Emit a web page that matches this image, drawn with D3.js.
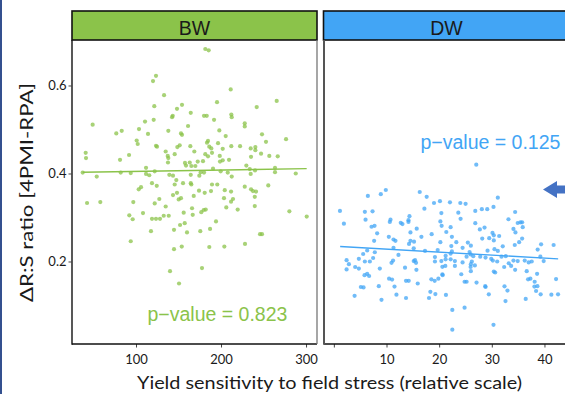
<!DOCTYPE html>
<html>
<head>
<meta charset="utf-8">
<script src="https://cdn.jsdelivr.net/npm/d3@7"></script>
<style>
  body { margin: 0; background: #fff; }
  svg { display: block; }
</style>
</head>
<body>
<svg id="chart" width="565" height="394"></svg>
<script>
// facet names and labels
const panels = ['BW', 'DW'];
const pValues = ['0.823', '0.125'];

// shared y axis
const yTicks = [0.2, 0.4, 0.6];
const bwTicks = [100, 200, 300];
const dwTicks = [0, 10, 20, 30, 40];
const dwTickLabels = ['', '10', '20', '30', '40'];

// [yield sensitivity, delta R:S ratio]
const bwPoints = [
  [123.5,0.622],[120,0.610],[133,0.578],[121.5,0.553],[49,0.511],[110.6,0.518],[120.8,0.522],[143.2,0.531],[142.4,0.528],[154.1,0.556],
  [148.2,0.547],[164.4,0.538],[161.2,0.508],[103.5,0.501],[138,0.497],[76.8,0.491],[83.2,0.497],[114.1,0.490],[152.9,0.491],[154.1,0.488],
  [100.8,0.475],[102,0.467],[40.8,0.447],[41.2,0.435],[123.5,0.463],[124.7,0.461],[91.8,0.442],[81.2,0.431],[134.9,0.450],[137.3,0.440],
  [138,0.435],[137.6,0.425],[145.5,0.444],[148.6,0.460],[151.4,0.464],[163.9,0.462],[168.6,0.450],[157.6,0.424],[158.8,0.418],[163.2,0.425],
  [165.1,0.417],[169.8,0.417],[37.3,0.402],[53.8,0.393],[82,0.402],[93.8,0.401],[111.8,0.413],[111.8,0.399],[115.6,0.396],[122,0.405],
  [139.2,0.397],[143.5,0.395],[147.4,0.385],[145.5,0.375],[155.3,0.378],[164.4,0.397],[164.4,0.378],[165.1,0.375],[118.8,0.378],[124.4,0.372],
  [105.9,0.369],[103.2,0.364],
  [181.5,0.683],[185.5,0.680],[211.4,0.591],[195.3,0.562],[265.5,0.565],[242,0.551],[180,0.531],[183.2,0.531],[191.8,0.522],[212.1,0.534],
  [212.6,0.528],[227.9,0.514],[227.9,0.507],[198,0.498],[205.5,0.485],[248.2,0.489],[276.5,0.478],[252.9,0.472],[184.7,0.474],[183.5,0.470],
  [196.5,0.469],[186.2,0.461],[188.6,0.457],[212.1,0.462],[222.4,0.462],[202,0.456],[234.9,0.457],[240.4,0.460],[240.4,0.453],[181.5,0.444],
  [184.7,0.439],[198.5,0.440],[247.1,0.445],[256.8,0.440],[266.7,0.439],[235.3,0.438],[189.4,0.447],[202,0.430],[198.8,0.427],[209.4,0.431],
  [172.6,0.427],[178.8,0.428],[229.8,0.418],[233.8,0.410],[190.6,0.411],[176.1,0.403],[174.5,0.395],[180,0.402],[199.6,0.405],[207.9,0.402],
  [212.6,0.393],[234.9,0.399],[240,0.407],[263.5,0.413],[263.5,0.403],[287.9,0.400],[189.4,0.375],[195.6,0.375],[227.9,0.370],[235.3,0.364],
  [255.6,0.373],
  [42.4,0.333],[58,0.335],[96.8,0.335],[122,0.332],[127.4,0.342],[143.5,0.351],[148.2,0.356],[150.2,0.341],[152.9,0.344],[167.9,0.349],
  [134.9,0.325],[165.9,0.321],[92.1,0.305],[96.1,0.296],[108.2,0.310],[118.8,0.297],[123.5,0.297],[128.2,0.297],[132.6,0.304],[138.5,0.304],
  [156.1,0.311],[166.7,0.306],[151.8,0.283],[157.3,0.287],[144.7,0.272],[160,0.266],[117.6,0.269],[93.8,0.246],[144.7,0.228],[153.8,0.234],
  [140,0.178],[150.6,0.150],
  [237.6,0.360],[241.2,0.359],[174.1,0.361],[180.8,0.356],[188.2,0.360],[204.4,0.362],[211.8,0.359],[203.5,0.344],[214.1,0.342],[211.8,0.336],
  [239.7,0.347],[206.2,0.323],[219.6,0.318],[239.7,0.326],[280.4,0.314],[300.8,0.302],[176.8,0.312],[179.6,0.317],[182,0.318],[194.1,0.291],
  [175.6,0.269],[187.1,0.274],[245.9,0.262],[248.2,0.262],[228.2,0.240],[186.2,0.233],[203.9,0.234],[177.6,0.185]
];

const dwPoints = [
  [27.05,0.420],[9.87,0.3625],[8.92,0.353],[6.46,0.349],[16.31,0.358],[17.63,0.347],[19.02,0.333],[20.15,0.337],[17.2,0.320],[1.16,0.315],
  [5.89,0.313],[7.35,0.314],[1.91,0.286],[6.02,0.295],[10.76,0.295],[10.63,0.290],[14.36,0.303],[14.17,0.294],[14.17,0.290],[12.71,0.288],
  [13.03,0.285],[20.42,0.310],[20.23,0.291],[20.47,0.281],[7.73,0.281],[7.16,0.279],[15.74,0.2745],[14.55,0.266],[8.22,0.264],[18.58,0.262],
  [10.44,0.256],[11.33,0.250],[11.7,0.247],[16.63,0.256],[7.65,0.247],[14.55,0.247],[15.23,0.245],[14.28,0.240],[20.23,0.244],[11.33,0.231],
  [15.17,0.230],[17.31,0.224],[19.72,0.226],[6.33,0.225],[7.78,0.221],[5.57,0.217],[12.27,0.215],[4.75,0.206],[7.46,0.208],[2.42,0.203],
  [2.86,0.194],[2.42,0.182],[5.89,0.200],[6.84,0.200],[11.25,0.202],[10.95,0.197],[15.17,0.201],[15.42,0.203],[15.61,0.197],[19.2,0.210],
  [19.2,0.200],[20.42,0.201],[4.05,0.1875],[4.75,0.184],[8.73,0.184],[13.52,0.186],[15.68,0.181],[20.61,0.188],[6.33,0.172],[5.83,0.169],
  [6.7,0.167],[20.61,0.171],[10.49,0.161],[11.06,0.159],[13.71,0.156],[14.22,0.156],[18.52,0.1595],[19.15,0.156],[19.85,0.161],[15.93,0.150],
  [11.52,0.143],[8.54,0.144],[5.13,0.142],[5.64,0.141],[18.33,0.131],[19.28,0.126],[11.89,0.1245],[3.94,0.122],[9.05,0.113],[13.71,0.117],
  [18.07,0.117],
  [22.05,0.3345],[24.02,0.333],[25.02,0.331],[30.32,0.324],[31.14,0.345],[26.86,0.315],[28.11,0.319],[29.13,0.319],[23.64,0.311],[34.43,0.3125],
  [24.07,0.297],[33.16,0.296],[26.86,0.287],[22.18,0.278],[28.62,0.277],[27.73,0.273],[34.92,0.2875],[35.44,0.289],[35.76,0.289],[35.87,0.278],
  [34.11,0.274],[34.49,0.266],[21.36,0.267],[30.13,0.265],[30.38,0.2595],[30.38,0.248],[31.4,0.258],[22.42,0.256],[28.18,0.252],[29.51,0.253],
  [35.76,0.252],[35.19,0.244],[23.26,0.244],[25.45,0.243],[26.02,0.236],[22.31,0.235],[22.42,0.223],[24.45,0.231],[34.36,0.2375],[32.08,0.2345],
  [39.36,0.239],[41.74,0.2375],[38.71,0.227],[29.19,0.2245],[30.51,0.228],[31.14,0.224],[25.78,0.2215],[25.97,0.216],[22.18,0.218],[21.23,0.213],
  [26.48,0.212],[25.21,0.211],[27.8,0.211],[28.81,0.209],[29.89,0.206],[30.19,0.202],[31.02,0.200],[31.84,0.211],[32.65,0.212],[34.11,0.202],
  [34.92,0.201],[36.25,0.202],[37.01,0.198],[37.58,0.200],[39.22,0.211],[39.85,0.201],[21.23,0.205],[22.18,0.205],[22.99,0.201],[24.45,0.198],
  [26.21,0.200],[26.02,0.194],[26.78,0.191],[21.17,0.190],[22.99,0.190],[25.97,0.1875],[32.35,0.1875],[33.22,0.196],[33.67,0.190],[34.43,0.181],
  [36.63,0.178],[26.02,0.178],[30.38,0.177],[30.64,0.175],[20.66,0.169],[24.2,0.171],[38.6,0.172],[36.89,0.1595],[37.33,0.161],[42.2,0.160],
  [38.14,0.154],[24.83,0.154],[25.21,0.154],[27.1,0.152],[28.75,0.144],[28.81,0.142],[32.41,0.1436],[38.66,0.144],[38.09,0.143],[32.97,0.134],
  [38.41,0.133],[29.43,0.1255],[39.28,0.1255],[41.31,0.1245],[42.58,0.1255],[21.29,0.124],[36.44,0.115],[32.6,0.110],[24.83,0.095],[22.5,0.090],
  [30.32,0.056],[22.5,0.045]
];

// linear fit end points
const bwFit = [[37.3, 0.403], [300.8, 0.411]];
const dwFit = [[1.2, 0.234], [42.6, 0.206]];

const colors = { BW: '#8bc34a', DW: '#42a5f5' };

const svg = d3.select('#chart');
const plotTop = 40, plotBottom = 344, stripTop = 11;

// page edge line
svg.append('rect').attr('x', 0).attr('y', 0).attr('width', 2).attr('height', 394).attr('fill', '#34508f');

const y = d3.scaleLinear().domain([0.0125, 0.7034]).range([plotBottom, plotTop]);

const facets = [
  { name: panels[0], pts: bwPoints, fit: bwFit, p: pValues[0], ticks: bwTicks, labels: bwTicks.map(String),
    x: d3.scaleLinear().domain([24.7, 312.9]).range([72, 317]), pPos: [147.5, 321] },
  { name: panels[1], pts: dwPoints, fit: dwFit, p: pValues[1], ticks: dwTicks, labels: dwTickLabels,
    x: d3.scaleLinear().domain([-1.87, 44.66]).range([324, 569]), pPos: [420.5, 149] }
];

facets.forEach((f, i) => {
  const [x0, x1] = f.x.range();
  const g = svg.append('g');

  // strip
  g.append('rect')
    .attr('x', i === 0 ? x0 : x0 - 0.5).attr('y', stripTop)
    .attr('width', x1 - x0).attr('height', plotTop - stripTop)
    .attr('fill', colors[f.name]).attr('stroke', '#111').attr('stroke-width', 1.6);
  g.append('text')
    .attr('x', (x0 + x1) / 2).attr('y', 34.5)
    .attr('text-anchor', 'middle')
    .style('font-family', '"Liberation Sans", Arial, sans-serif')
    .style('font-size', '19.5px')
    .style('fill', '#1a1a1a')
    .text(f.name);

  // points
  g.append('g').selectAll('circle')
    .data(f.pts)
    .enter()
    .append('circle')
    .attr('cx', d => f.x(d[0]))
    .attr('cy', d => y(d[1]))
    .attr('r', 2.1)
    .attr('fill', colors[f.name])
    .attr('fill-opacity', 0.75);

  // fit line
  g.append('path')
    .datum(f.fit)
    .attr('d', d3.line().x(d => f.x(d[0])).y(d => y(d[1])))
    .attr('fill', 'none')
    .attr('stroke', colors[f.name])
    .attr('stroke-width', 1.4);

  // p-value
  g.append('text')
    .attr('x', f.pPos[0]).attr('y', f.pPos[1])
    .style('font-family', '"Liberation Sans", Arial, sans-serif')
    .style('font-size', '19.5px')
    .style('fill', colors[f.name])
    .text('p\u2212value = ' + f.p);

  // x axis
  const xAxis = d3.axisBottom(f.x).tickValues(f.ticks)
    .tickFormat((d, k) => f.labels[k]).tickSize(3.5).tickPadding(7);
  const ax = g.append('g').attr('transform', `translate(0,${plotBottom})`).call(xAxis);
  ax.select('.domain').remove();
  ax.selectAll('line').attr('stroke', '#444');
  ax.selectAll('text')
    .style('font-family', 'Lato, "Open Sans", sans-serif')
    .style('font-size', '13px')
    .style('fill', '#1a1a1a');

  // panel frame
  g.append('line').attr('x1', x0).attr('x2', x1).attr('y1', plotBottom).attr('y2', plotBottom)
    .attr('stroke', '#111').attr('stroke-width', 1.6);
  if (i === 0) {
    g.append('line').attr('x1', x1).attr('x2', x1).attr('y1', plotTop).attr('y2', plotBottom)
      .attr('stroke', '#777').attr('stroke-width', 1.3);
    g.append('line').attr('x1', x0).attr('x2', x0).attr('y1', plotTop).attr('y2', plotBottom + 0.8)
      .attr('stroke', '#111').attr('stroke-width', 1.4);
    const yAxis = d3.axisLeft(y).tickValues(yTicks).tickFormat(d3.format('.1f')).tickSize(3.5).tickPadding(2);
    const ay = g.append('g').attr('transform', `translate(${x0},0)`).call(yAxis);
    ay.select('.domain').remove();
    ay.selectAll('line').attr('stroke', '#444');
    ay.selectAll('text')
      .style('font-family', 'Lato, "Open Sans", sans-serif')
      .style('font-size', '13px')
      .style('fill', '#1a1a1a');
  } else {
    g.append('line').attr('x1', x0).attr('x2', x0).attr('y1', plotTop).attr('y2', plotBottom + 0.8)
      .attr('stroke', '#555').attr('stroke-width', 2);
  }
});

// axis titles
svg.append('text')
  .attr('x', 329.5).attr('y', 389)
  .attr('text-anchor', 'middle')
  .attr('textLength', 385).attr('lengthAdjust', 'spacingAndGlyphs')
  .style('font-family', 'Lato, "Open Sans", sans-serif')
  .style('font-size', '17px')
  .style('fill', '#1a1a1a')
  .text('Yield sensitivity to field stress (relative scale)');

svg.append('text')
  .attr('transform', 'translate(33,192.5) rotate(-90)')
  .attr('text-anchor', 'middle')
  .attr('textLength', 219).attr('lengthAdjust', 'spacingAndGlyphs')
  .style('font-family', 'Lato, "Open Sans", sans-serif')
  .style('font-size', '17px')
  .style('fill', '#1a1a1a')
  .text('\u0394R:S ratio [4PMI-RPA]');

// highlight arrow at the right edge
svg.append('path')
  .attr('d', 'M543,189.5 L557,181 L557,185.5 L567,185.5 L567,193.5 L557,193.5 L557,198 Z')
  .attr('fill', '#4472c4');
</script>
</body>
</html>
